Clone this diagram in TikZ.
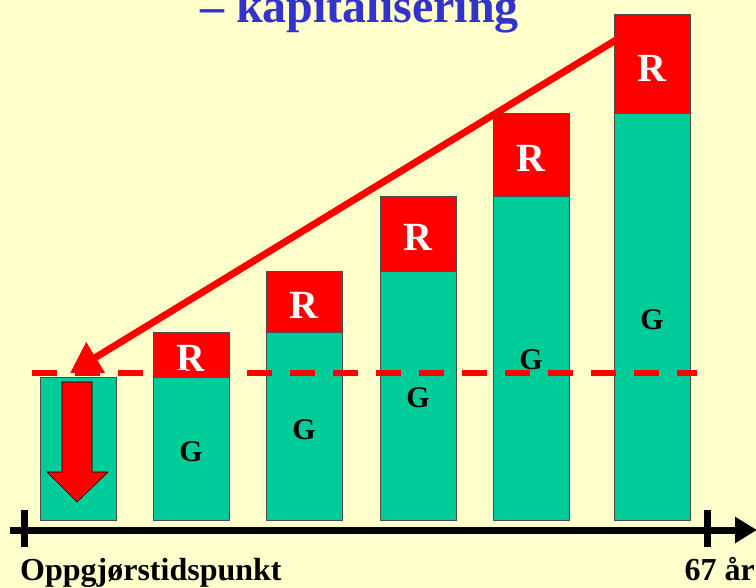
\documentclass[tikz,border=0pt]{standalone}
\usepackage{fontspec}
\setmainfont{Liberation Serif}
\usetikzlibrary{arrows.meta}
\definecolor{bg}{HTML}{FFFFCC}
\definecolor{gcol}{HTML}{00CC99}
\definecolor{rcol}{HTML}{FF0000}
\definecolor{tcol}{HTML}{3333CC}
\tikzset{
  gbox/.style={draw=black!70, line width=0.8pt, fill=gcol, minimum width=76pt, inner sep=0pt, anchor=south west},
  rbox/.style={draw=black!70, line width=0.8pt, fill=rcol, minimum width=76pt, inner sep=0pt, anchor=south west},
  rlab/.style={text=white, font=\bfseries\fontsize{40}{40}\selectfont},
  glab/.style={text=black, font=\bfseries\fontsize{30}{30}\selectfont},
  axlab/.style={text=black, font=\bfseries\fontsize{32}{32}\selectfont, inner sep=0pt},
  tick/.style={line width=7pt},
}
\begin{document}
\begin{tikzpicture}[x=1pt,y=-1pt]
\useasboundingbox (0,0) rectangle (756,588);
\fill[bg] (0,0) rectangle (756,588);
\clip (0,0) rectangle (756,588);
% title
\node[anchor=base west, inner sep=0pt, text=tcol, font=\bfseries\fontsize{48}{48}\selectfont] (title) at (200,23) {– kapitalisering};
% bars
\node[gbox, minimum height=143pt] (g1) at (40,521) {};
\node[gbox, minimum height=143pt] (g2) at (153,521) {};
\node[rbox, minimum height=45pt] (r2) at (153,378) {};
\node[gbox, minimum height=188pt] (g3) at (266,521) {};
\node[rbox, minimum height=61pt] (r3) at (266,333) {};
\node[gbox, minimum height=249pt] (g4) at (380,521) {};
\node[rbox, minimum height=75pt] (r4) at (380,272) {};
\node[gbox, minimum height=324pt] (g5) at (493,521) {};
\node[rbox, minimum height=83pt] (r5) at (493,197) {};
\node[gbox, minimum height=407pt] (g6) at (614,521) {};
\node[rbox, minimum height=99pt] (r6) at (614,114) {};
% labels
\node[rlab] (lr2) at (191,358) {R};
\node[rlab] (lr3) at (304,305) {R};
\node[rlab] (lr4) at (418,237) {R};
\node[rlab] (lr5) at (531,158) {R};
\node[rlab] (lr6) at (652,68) {R};
\node[glab] (lg2) at (191,452) {G};
\node[glab] (lg3) at (304,430) {G};
\node[glab] (lg4) at (418,398) {G};
\node[glab] (lg5) at (531,360) {G};
\node[glab] (lg6) at (652,320) {G};
% dashed line
\coordinate (dl) at (32,373);
\coordinate (dr) at (697,373);
\draw[rcol, line width=5.5pt, dash pattern=on 25pt off 18pt] (dl) -- (dr);
% diagonal arrow
\coordinate (astart) at (616,40);
\coordinate (atip) at (70,373);
\draw[rcol, line width=7pt, -{Triangle[length=30pt,width=34pt]}] (astart) -- (atip);
% down arrow in first bar
\draw[black, line width=0.6pt, fill=rcol] (62,382) -- (92,382) -- (92,472) -- (108,472) -- (77,502) -- (47,472) -- (62,472) -- cycle;
% axis
\coordinate (ax0) at (10,530);
\coordinate (ax1) at (757,530);
\draw[black, line width=7pt, -{Triangle[length=22pt,width=25pt]}] (ax0) -- (ax1);
\draw[tick] (24,510) -- (24,547);
\draw[tick] (707,510) -- (707,547);
% axis labels
\node[axlab, anchor=base west] (lstart) at (20,580) {Oppgjørstidspunkt};
\node[axlab, anchor=base east] (lend) at (755,580) {67 år};
\end{tikzpicture}
\end{document}
